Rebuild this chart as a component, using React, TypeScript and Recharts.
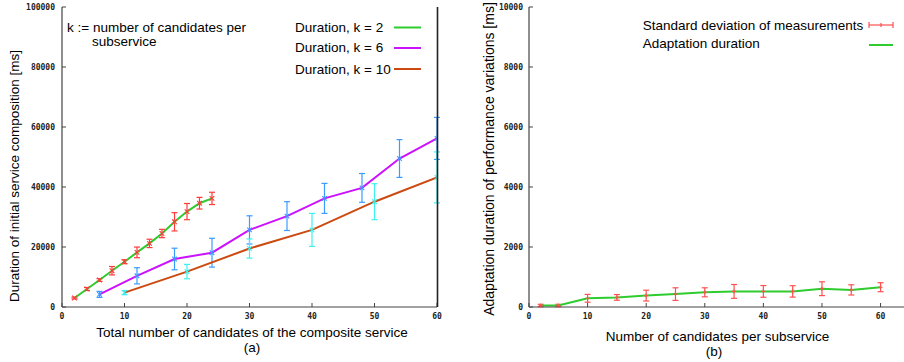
import React from 'react';
import { LineChart, Line, XAxis, YAxis, ErrorBar } from 'recharts';

// ---- Left panel (a) ----
const k2X = [2, 4, 6, 8, 10, 12, 14, 16, 18, 20, 22, 24];
const k2Y = [3000, 6000, 9000, 12100, 15100, 18200, 21200, 24500, 28400, 31800, 34600, 36200];
const k2Err = [300, 500, 450, 1400, 670, 1780, 1390, 1390, 3050, 2700, 1940, 2050];

const k6X = [6, 12, 18, 24, 30, 36, 42, 48, 54, 60];
const k6Y = [4200, 10400, 16000, 18100, 25700, 30300, 36200, 39700, 49500, 56200];
const k6Err = [1000, 2700, 3600, 4800, 4700, 4800, 5000, 4800, 6300, 7000];

const k10X = [10, 20, 30, 40, 50, 60];
const k10Y = [4800, 11800, 19500, 25700, 35100, 43200];
const k10Err = [700, 2400, 3200, 5500, 6000, 8500];

const leftXTicks = [0, 10, 20, 30, 40, 50, 60];
const leftYTicks = [0, 20000, 40000, 60000, 80000, 100000];

// ---- Right panel (b) ----
const adX = [2, 5, 10, 15, 20, 25, 30, 35, 40, 45, 50, 55, 60];
const adY = [50, 50, 290, 320, 380, 430, 490, 520, 520, 520, 610, 570, 660];
const adErr = [40, 40, 130, 95, 180, 210, 150, 230, 195, 190, 230, 170, 150];

const rightXTicks = [0, 10, 20, 30, 40, 50, 60];
const rightYTicks = [0, 2000, 4000, 6000, 8000, 10000];

const rows = (xs: number[], ys: number[], es: number[]) =>
  xs.map((x, i) => ({ x, y: ys[i], err: es[i] }));

const k2Data = rows(k2X, k2Y, k2Err);
const k6Data = rows(k6X, k6Y, k6Err);
const k10Data = rows(k10X, k10Y, k10Err);
const adData = rows(adX, adY, adErr);

const AXIS = '#444';
const GREEN = '#2ecc2e';
const PURPLE = '#cc11ff';
const ORANGE = '#cc4a10';
const RED = '#ff3a3a';
const BLUE = '#3a9cff';
const CYAN = '#3ff0f0';
const RRED = '#ff5050';

const tickStyle = {
  fontFamily: 'DejaVu Sans Mono',
  fontWeight: 'bold',
  fontSize: 8,
  fill: '#222',
};
const textFont = 'Liberation Sans, Arial, sans-serif';

const crossDot = (color: string, s = 2.3) => (p: any) => {
  const { cx, cy, index } = p;
  if (cx == null || cy == null) return <g key={`e${index}`} />;
  return (
    <path
      key={`d${index}`}
      d={`M${cx - s},${cy - s}L${cx + s},${cy + s}M${cx - s},${cy + s}L${cx + s},${cy - s}`}
      stroke={color}
      strokeWidth={1.1}
      fill="none"
    />
  );
};

const plusDot = (color: string, s = 2.3) => (p: any) => {
  const { cx, cy, index } = p;
  if (cx == null || cy == null) return <g key={`e${index}`} />;
  return (
    <path
      key={`d${index}`}
      d={`M${cx - s},${cy}L${cx + s},${cy}M${cx},${cy - s}L${cx},${cy + s}`}
      stroke={color}
      strokeWidth={1.1}
      fill="none"
    />
  );
};

function LeftChart() {
  return (
    <LineChart
      width={450}
      height={362}
      margin={{ top: 7, right: 13, left: 0, bottom: 35 }}
    >
      <XAxis
        xAxisId="b"
        dataKey="x"
        type="number"
        domain={[0, 60]}
        ticks={leftXTicks}
        interval={0}
        allowDataOverflow
        height={20}
        tick={tickStyle}
        tickSize={-4}
        tickMargin={10}
        tickLine={{ stroke: AXIS }}
        axisLine={{ stroke: AXIS, strokeWidth: 1.2 }}
      />
      <XAxis
        xAxisId="t"
        orientation="top"
        type="number"
        domain={[0, 60]}
        ticks={leftXTicks}
        interval={0}
        height={0}
        tick={false}
        tickSize={-4}
        tickLine={{ stroke: AXIS }}
        axisLine={{ stroke: AXIS, strokeWidth: 1.2 }}
      />
      <YAxis
        yAxisId="l"
        type="number"
        domain={[0, 100000]}
        ticks={leftYTicks}
        interval={0}
        width={62}
        tick={tickStyle}
        tickSize={-4}
        tickMargin={11}
        tickLine={{ stroke: AXIS }}
        axisLine={{ stroke: AXIS, strokeWidth: 1.2 }}
      />
      <YAxis
        yAxisId="r"
        orientation="right"
        type="number"
        domain={[0, 100000]}
        ticks={leftYTicks}
        interval={0}
        width={0}
        tick={false}
        tickSize={-4}
        tickLine={{ stroke: AXIS }}
        axisLine={{ stroke: AXIS, strokeWidth: 1.5 }}
      />
      {/* error bars */}
      <Line xAxisId="b" yAxisId="l" data={k2Data} dataKey="y" stroke="none" dot={crossDot(RED)} isAnimationActive={false}>
        <ErrorBar dataKey="err" width={3} stroke={RED} strokeWidth={1.2} direction="y" />
      </Line>
      <Line xAxisId="b" yAxisId="l" data={k6Data} dataKey="y" stroke="none" dot={crossDot(BLUE)} isAnimationActive={false}>
        <ErrorBar dataKey="err" width={3} stroke={BLUE} strokeWidth={1.2} direction="y" />
      </Line>
      <Line xAxisId="b" yAxisId="l" data={k10Data} dataKey="y" stroke="none" dot={crossDot(CYAN)} isAnimationActive={false}>
        <ErrorBar dataKey="err" width={3} stroke={CYAN} strokeWidth={1.2} direction="y" />
      </Line>
      {/* lines */}
      <Line xAxisId="b" yAxisId="l" data={k2Data} dataKey="y" type="linear" stroke={GREEN} strokeWidth={2} dot={false} isAnimationActive={false} />
      <Line xAxisId="b" yAxisId="l" data={k6Data} dataKey="y" type="linear" stroke={PURPLE} strokeWidth={2} dot={false} isAnimationActive={false} />
      <Line xAxisId="b" yAxisId="l" data={k10Data} dataKey="y" type="linear" stroke={ORANGE} strokeWidth={2} dot={false} isAnimationActive={false} />
    </LineChart>
  );
}

function RightChart() {
  return (
    <LineChart
      width={454}
      height={362}
      margin={{ top: 7, right: 0, left: 0, bottom: 35 }}
    >
      <XAxis
        xAxisId="b"
        dataKey="x"
        type="number"
        domain={[0, 64]}
        ticks={rightXTicks}
        interval={0}
        allowDataOverflow
        height={20}
        tick={tickStyle}
        tickSize={-4}
        tickMargin={10}
        tickLine={{ stroke: AXIS }}
        axisLine={{ stroke: AXIS, strokeWidth: 1.2 }}
      />
      <XAxis
        xAxisId="t"
        orientation="top"
        type="number"
        domain={[0, 64]}
        ticks={rightXTicks}
        interval={0}
        height={0}
        tick={false}
        tickSize={-4}
        tickLine={{ stroke: AXIS }}
        axisLine={{ stroke: AXIS, strokeWidth: 1.2 }}
      />
      <YAxis
        yAxisId="l"
        type="number"
        domain={[0, 10000]}
        ticks={rightYTicks}
        interval={0}
        width={79}
        tick={tickStyle}
        tickSize={-4}
        tickMargin={10}
        tickLine={{ stroke: AXIS }}
        axisLine={{ stroke: AXIS, strokeWidth: 1.2 }}
      />
      <Line xAxisId="b" yAxisId="l" data={adData} dataKey="y" stroke="none" dot={plusDot(RRED, 2)} isAnimationActive={false}>
        <ErrorBar dataKey="err" width={3} stroke={RRED} strokeWidth={1.2} direction="y" />
      </Line>
      <Line xAxisId="b" yAxisId="l" data={adData} dataKey="y" type="linear" stroke={GREEN} strokeWidth={2} dot={false} isAnimationActive={false} />
    </LineChart>
  );
}

function Overlay() {
  const t = { fontFamily: textFont, fontSize: 13.5, fill: '#000' } as any;
  return (
    <svg
      width={904}
      height={362}
      style={{ position: 'absolute', left: 0, top: 0, pointerEvents: 'none' }}
    >
      {/* right border of panel (a), drawn above the series like the original frame */}
      <line x1={437.5} x2={437.5} y1={7} y2={307} stroke="#222" strokeWidth={1.6} />

      {/* axis titles */}
      <text {...t} x={0} y={0} textAnchor="middle" dominantBaseline="central" transform="translate(14,176) rotate(-90)">
        Duration of initial service composition [ms]
      </text>
      <text {...t} fontSize={14} x={0} y={0} textAnchor="middle" dominantBaseline="central" transform="translate(489,159) rotate(-90)">
        Adaptation duration of performance variations [ms]
      </text>
      <text {...t} x={252} y={332} textAnchor="middle" dominantBaseline="central">
        Total number of candidates of the composite service
      </text>
      <text {...t} x={252} y={347.5} textAnchor="middle" dominantBaseline="central">(a)</text>
      <text {...t} x={717.5} y={336.5} textAnchor="middle" dominantBaseline="central">
        Number of candidates per subservice
      </text>
      <text {...t} x={714} y={351.7} textAnchor="middle" dominantBaseline="central">(b)</text>

      {/* left key */}
      <text {...t} x={67} y={27} dominantBaseline="central">k := number of candidates per</text>
      <text {...t} x={92} y={41.5} dominantBaseline="central">subservice</text>
      <text {...t} x={295} y={27.3} dominantBaseline="central">Duration, k = 2</text>
      <text {...t} x={295} y={47.7} dominantBaseline="central">Duration, k = 6</text>
      <text {...t} x={295} y={69} dominantBaseline="central">Duration, k = 10</text>
      <line x1={394} x2={421} y1={27.5} y2={27.5} stroke={GREEN} strokeWidth={2} />
      <line x1={394} x2={421} y1={48} y2={48} stroke={PURPLE} strokeWidth={2} />
      <line x1={394} x2={421} y1={69} y2={69} stroke={ORANGE} strokeWidth={2} />

      {/* right key */}
      <text {...t} x={642.7} y={25} dominantBaseline="central">Standard deviation of measurements</text>
      <text {...t} x={642.7} y={43.5} dominantBaseline="central">Adaptation duration</text>
      <line x1={869} x2={893} y1={25} y2={25} stroke={RRED} strokeWidth={1.2} />
      <line x1={869} x2={869} y1={22} y2={28} stroke={RRED} strokeWidth={1.2} />
      <line x1={893} x2={893} y1={22} y2={28} stroke={RRED} strokeWidth={1.2} />
      <line x1={881} x2={881} y1={23} y2={27} stroke={RRED} strokeWidth={1.2} />
      <line x1={869} x2={893} y1={45} y2={45} stroke={GREEN} strokeWidth={2} />
    </svg>
  );
}

export default function App() {
  return (
    <div
      style={{
        position: 'absolute',
        left: 0,
        top: 0,
        width: 904,
        height: 362,
        background: '#fff',
        overflow: 'hidden',
      }}
    >
      <div style={{ position: 'absolute', left: 0, top: 0 }}>
        <LeftChart />
      </div>
      <div style={{ position: 'absolute', left: 450, top: 0 }}>
        <RightChart />
      </div>
      <Overlay />
    </div>
  );
}
